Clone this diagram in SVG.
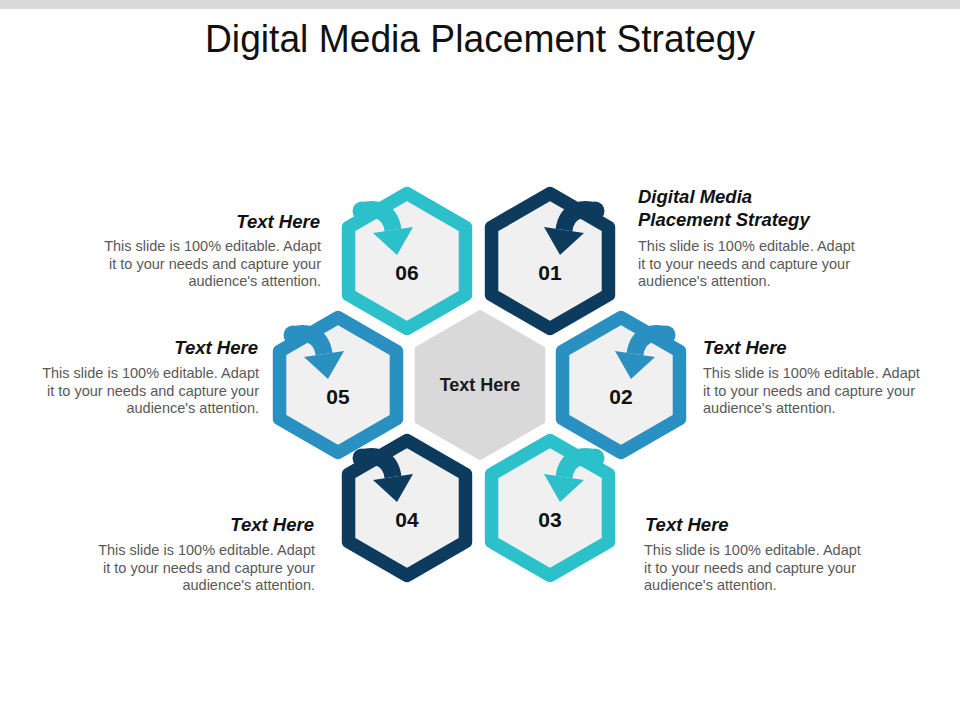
<svg xmlns="http://www.w3.org/2000/svg" xmlns:xlink="http://www.w3.org/1999/xlink" width="960" height="720" viewBox="0 0 960 720">
  <style>
    .hex { fill: #f0f0f0; stroke-width: 13.5; stroke-linejoin: round; }
    .navy { stroke: #0d3b5e; fill: #0d3b5e; color: #0d3b5e; }
    .blue { stroke: #2a8fc1; fill: #2a8fc1; color: #2a8fc1; }
    .cyan { stroke: #2bc0ca; fill: #2bc0ca; color: #2bc0ca; }
    .num { font-family: "Liberation Sans", Arial, sans-serif; font-weight: bold; font-size: 21px; fill: #111; text-anchor: middle; }
    .head { font-family: "Liberation Sans", Arial, sans-serif; font-weight: bold; font-style: italic; font-size: 18.5px; fill: #111; }
    .body { font-family: "Liberation Sans", Arial, sans-serif; font-size: 14.5px; fill: #595959; }
    .r { text-anchor: end; }
  </style>
  <defs>
    <polygon id="hexShape" points="0,-67.5 58.46,-33.75 58.46,33.75 0,67.5 -58.46,33.75 -58.46,-33.75"/>
    <g id="arrowR">
      <circle cx="45" cy="-50" r="9.5" fill="currentColor" stroke="none"/>
      <path d="M45,-50 C35,-53 17,-53 14,-31" fill="none" stroke="currentColor" stroke-width="17" stroke-linecap="butt"/>
      <polygon points="-6,-34 34,-28 10,-6" fill="currentColor" stroke="none"/>
    </g>
  </defs>

  <rect x="0" y="0" width="960" height="9" fill="#d9d9d9"/>
  <text x="480" y="52" font-family="'Liberation Sans', Arial, sans-serif" font-size="38" fill="#111" text-anchor="middle" textLength="550" lengthAdjust="spacingAndGlyphs">Digital Media Placement Strategy</text>

  <g id="center">
    <polygon points="480,313 542.35,349 542.35,421 480,457 417.65,421 417.65,349" fill="#d9d9d9" stroke="#d9d9d9" stroke-width="6" stroke-linejoin="round"/>
    <text x="480" y="391" font-family="'Liberation Sans', Arial, sans-serif" font-weight="bold" font-size="18" fill="#1a1a1a" text-anchor="middle">Text Here</text>
  </g>

  <g id="node06" transform="translate(407,261)">
    <use xlink:href="#hexShape" class="hex cyan" style="fill:#f0f0f0"/>
    <use xlink:href="#arrowR" class="cyan" transform="scale(-1,1)"/>
    <text class="num" x="0" y="19">06</text>
  </g>
  <g id="node01" transform="translate(550,261)">
    <use xlink:href="#hexShape" class="hex navy" style="fill:#f0f0f0"/>
    <use xlink:href="#arrowR" class="navy"/>
    <text class="num" x="0" y="19">01</text>
  </g>
  <g id="node05" transform="translate(338,385)">
    <use xlink:href="#hexShape" class="hex blue" style="fill:#f0f0f0"/>
    <use xlink:href="#arrowR" class="blue" transform="scale(-1,1)"/>
    <text class="num" x="0" y="19">05</text>
  </g>
  <g id="node02" transform="translate(621,385)">
    <use xlink:href="#hexShape" class="hex blue" style="fill:#f0f0f0"/>
    <use xlink:href="#arrowR" class="blue"/>
    <text class="num" x="0" y="19">02</text>
  </g>
  <g id="node04" transform="translate(407,508)">
    <use xlink:href="#hexShape" class="hex navy" style="fill:#f0f0f0"/>
    <use xlink:href="#arrowR" class="navy" transform="scale(-1,1)"/>
    <text class="num" x="0" y="19">04</text>
  </g>
  <g id="node03" transform="translate(550,508)">
    <use xlink:href="#hexShape" class="hex cyan" style="fill:#f0f0f0"/>
    <use xlink:href="#arrowR" class="cyan"/>
    <text class="num" x="0" y="19">03</text>
  </g>

  <g id="label01">
    <text class="head" x="638" y="203">Digital Media</text>
    <text class="head" x="638" y="226">Placement Strategy</text>
    <text class="body" x="638" y="251">This slide is 100% editable. Adapt</text>
    <text class="body" x="638" y="269">it to your needs and capture your</text>
    <text class="body" x="638" y="286">audience's attention.</text>
  </g>
  <g id="label06">
    <text class="head r" x="320" y="228">Text Here</text>
    <text class="body r" x="321" y="251">This slide is 100% editable. Adapt</text>
    <text class="body r" x="321" y="269">it to your needs and capture your</text>
    <text class="body r" x="321" y="286">audience's attention.</text>
  </g>
  <g id="label05">
    <text class="head r" x="258" y="354">Text Here</text>
    <text class="body r" x="259" y="378">This slide is 100% editable. Adapt</text>
    <text class="body r" x="259" y="396">it to your needs and capture your</text>
    <text class="body r" x="259" y="413">audience's attention.</text>
  </g>
  <g id="label02">
    <text class="head" x="703" y="354">Text Here</text>
    <text class="body" x="703" y="378">This slide is 100% editable. Adapt</text>
    <text class="body" x="703" y="396">it to your needs and capture your</text>
    <text class="body" x="703" y="413">audience's attention.</text>
  </g>
  <g id="label04">
    <text class="head r" x="314" y="531">Text Here</text>
    <text class="body r" x="315" y="555">This slide is 100% editable. Adapt</text>
    <text class="body r" x="315" y="573">it to your needs and capture your</text>
    <text class="body r" x="315" y="590">audience's attention.</text>
  </g>
  <g id="label03">
    <text class="head" x="645" y="531">Text Here</text>
    <text class="body" x="644" y="555">This slide is 100% editable. Adapt</text>
    <text class="body" x="644" y="573">it to your needs and capture your</text>
    <text class="body" x="644" y="590">audience's attention.</text>
  </g>
</svg>
